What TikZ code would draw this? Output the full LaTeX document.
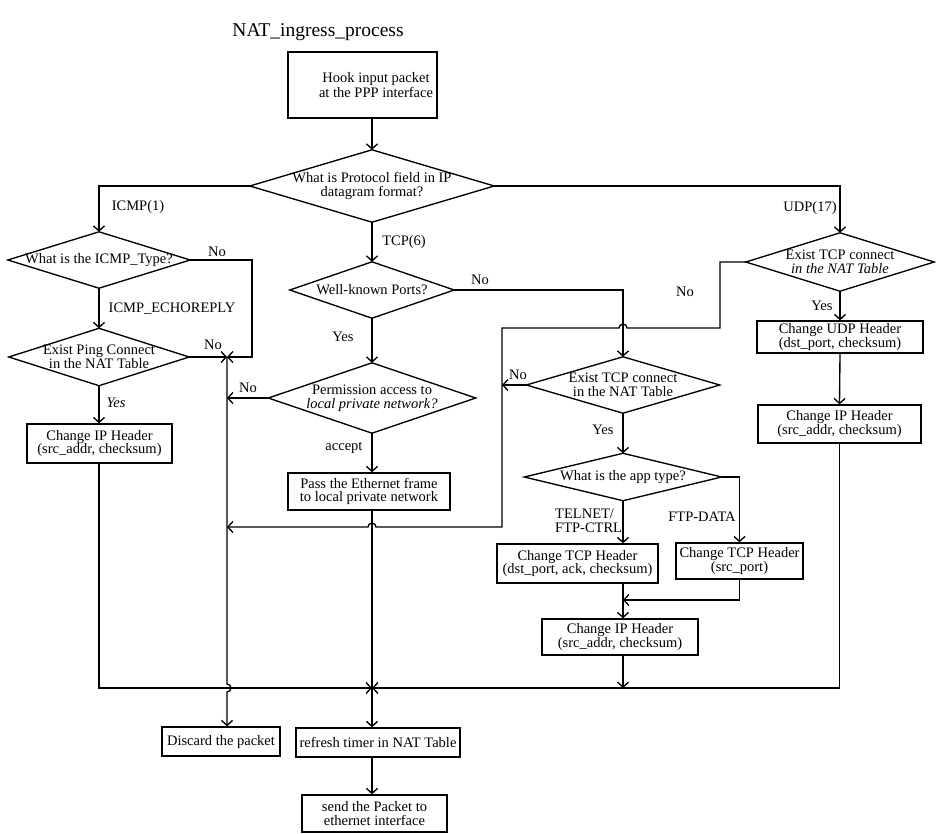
\documentclass[tikz,border=0pt]{standalone}
\usepackage{fontspec}
\setmainfont{Liberation Serif}
\usetikzlibrary{arrows.meta}
\tikzset{
  ln/.style={line width=1.35pt},
  arr/.style={line width=1.35pt,-{Straight Barb[length=5pt,width=11pt]}},
  box/.style={draw,line width=1.35pt,rectangle,inner sep=0pt,align=center},
  dia/.style={rectangle,inner sep=0pt,align=center},
  lab/.style={inner sep=0pt,align=center},
}
\begin{document}
\begin{tikzpicture}[x=1pt,y=-1pt,every node/.style={font=\fontsize{14.5}{13.5}\selectfont}]
\fill[white] (0,0) rectangle (936,833);
\useasboundingbox (0,0) rectangle (936,833);

\node[lab,font=\fontsize{19.5}{22}\selectfont] (title) at (318,32) {NAT\_ingress\_process};

% boxes
\node[box,minimum width=149,minimum height=66] (hook) at (362.5,85) {};
\node[lab] (hooktxt) at (376,85) {Hook input packet\\[2pt]at the PPP interface};
\node[box,minimum width=145,minimum height=39] (icmpip) at (99.5,443.5) {Change IP Header\\(src\_addr, checksum)};
\node[box,minimum width=162,minimum height=37] (pass) at (369,491.5) {Pass the Ethernet frame\\to local private network};
\node[box,minimum width=161,minimum height=39] (tcph1) at (577.5,563.5) {Change TCP Header\\(dst\_port, ack, checksum)};
\node[box,minimum width=127,minimum height=36] (tcph2) at (739.5,561) {Change TCP Header\\(src\_port)};
\node[box,minimum width=156,minimum height=36] (tcpip) at (620,637) {Change IP Header\\(src\_addr, checksum)};
\node[box,minimum width=166,minimum height=32] (udph) at (840,337) {Change UDP Header\\(dst\_port, checksum)};
\node[box,minimum width=163,minimum height=38] (udpip) at (839.5,424) {Change IP Header\\(src\_addr, checksum)};
\node[box,minimum width=118,minimum height=29] (discard) at (221,741.5) {Discard the packet};
\node[box,minimum width=164,minimum height=29] (refresh) at (378,742.5) {refresh timer in NAT Table};
\node[box,minimum width=145,minimum height=37] (send) at (374.5,813.5) {send the Packet to\\ethernet interface};

% diamonds
\node[dia,minimum width=244,minimum height=72] (d1) at (372,186) {What is Protocol field in IP\\datagram format?};
\node[dia,minimum width=182,minimum height=56] (icmp) at (99,260) {What is the ICMP\_Type?};
\node[dia,minimum width=180,minimum height=57] (ping) at (99,357) {Exist Ping Connect\\in the NAT Table};
\node[dia,minimum width=164,minimum height=56] (wk) at (372,290) {Well-known Ports?};
\node[dia,minimum width=207,minimum height=70] (perm) at (372,398) {Permission access to\\\textit{local private network?}};
\node[dia,minimum width=193,minimum height=56] (tcpc) at (623,385) {Exist TCP connect\\in the NAT Table};
\node[dia,minimum width=197,minimum height=47] (app) at (623,477) {What is the app type?};
\node[dia,minimum width=188,minimum height=58] (udpc) at (840,262) {Exist TCP connect\\\textit{in the NAT Table}};
\foreach \n in {d1,icmp,ping,wk,perm,tcpc,app,udpc}
  \draw[ln] (\n.north) -- (\n.east) -- (\n.south) -- (\n.west) -- cycle;

% junction points
\coordinate (dtop) at (227,357);
\coordinate (m) at (372,688);
\coordinate (cA) at (502,328);
\coordinate (cB) at (502,527);
\coordinate (u1) at (720,328);
\coordinate (mj) at (623,600);

% connectors
\draw[arr] (hook.south -| d1.north) -- (d1.north);
\draw[arr] (d1.west) -| (icmp.north);
\draw[arr] (d1.south) -- (wk.north);
\draw[arr] (d1.east) -| (udpc.north);
\draw[arr] (icmp.south) -- (ping.north);
\draw[arr] (icmp.east) -| (252,357) -- (dtop);
\draw[arr] (ping.east) -- (dtop);
\draw[arr] (ping.south) -- (ping.south |- icmpip.north);
\draw[arr] (wk.south) -- (perm.north);
\draw[arr] (wk.east) -| (tcpc.north);
\draw[arr] (perm.west) -- (perm.west -| dtop);
\draw[arr] (perm.south) -- (perm.south |- pass.north);
\draw[arr] (tcpc.west) -- (tcpc.west -| cA);
\draw[arr] (tcpc.south) -- (app.north);
\draw[arr] (app.south) -- (app.south |- tcph1.north);
\draw[arr] (app.east) -| (tcph2.north);
\draw[arr] (app.south |- tcph1.south) -- (app.south |- tcpip.north);
\draw[arr] (tcph2.south) |- (mj);
\draw[arr] (app.south |- tcpip.south) -- (app.south |- m);
\draw[arr] (udpc.south) -- (udph.north);
\draw[arr] (udph.south) -- (udpip.north);
\draw[arr] (udpip.south) -- (udpip.south |- m) -- (m);
\draw[arr] (ping.south |- icmpip.south) -- (ping.south |- m) -- (m);
\draw[ln] (perm.south |- pass.south) -- (m);
\draw[arr] (m) -- (m |- refresh.north);
\draw[arr] (refresh.south -| m) -- (m |- send.north);
\draw[arr] (udpc.west) -| (u1) -- (627,328) arc[start angle=0,end angle=-180,radius=4] -- (cA) -- (cB) -- (376,527) arc[start angle=0,end angle=-180,radius=4] -- (cB -| dtop);
\draw[arr] (dtop) -- (227,684) arc[start angle=-90,end angle=90,radius=4] -- (dtop |- discard.north);

% labels
\node[lab] (l1) at (138,207) {ICMP(1)};
\node[lab] (l2) at (217,252) {No};
\node[lab] (l3) at (172,309) {ICMP\_ECHOREPLY};
\node[lab] (l4) at (213,345) {No};
\node[lab] (l5) at (116,403) {\textit{Yes}};
\node[lab] (l6) at (404,242) {TCP(6)};
\node[lab] (l7) at (480,280) {No};
\node[lab] (l8) at (343,337) {Yes};
\node[lab] (l9) at (248,388) {No};
\node[lab] (l10) at (344,448) {accept};
\node[lab] (l11) at (518,375) {No};
\node[lab] (l12) at (685,292) {No};
\node[lab] (l13) at (810,208) {UDP(17)};
\node[lab] (l14) at (822,306) {Yes};
\node[lab] (l15) at (603,430) {Yes};
\node[lab,anchor=west,align=left] (l16) at (555,521) {TELNET/\\FTP-CTRL};
\node[lab] (l17) at (702,517) {FTP-DATA};
\end{tikzpicture}
\end{document}
